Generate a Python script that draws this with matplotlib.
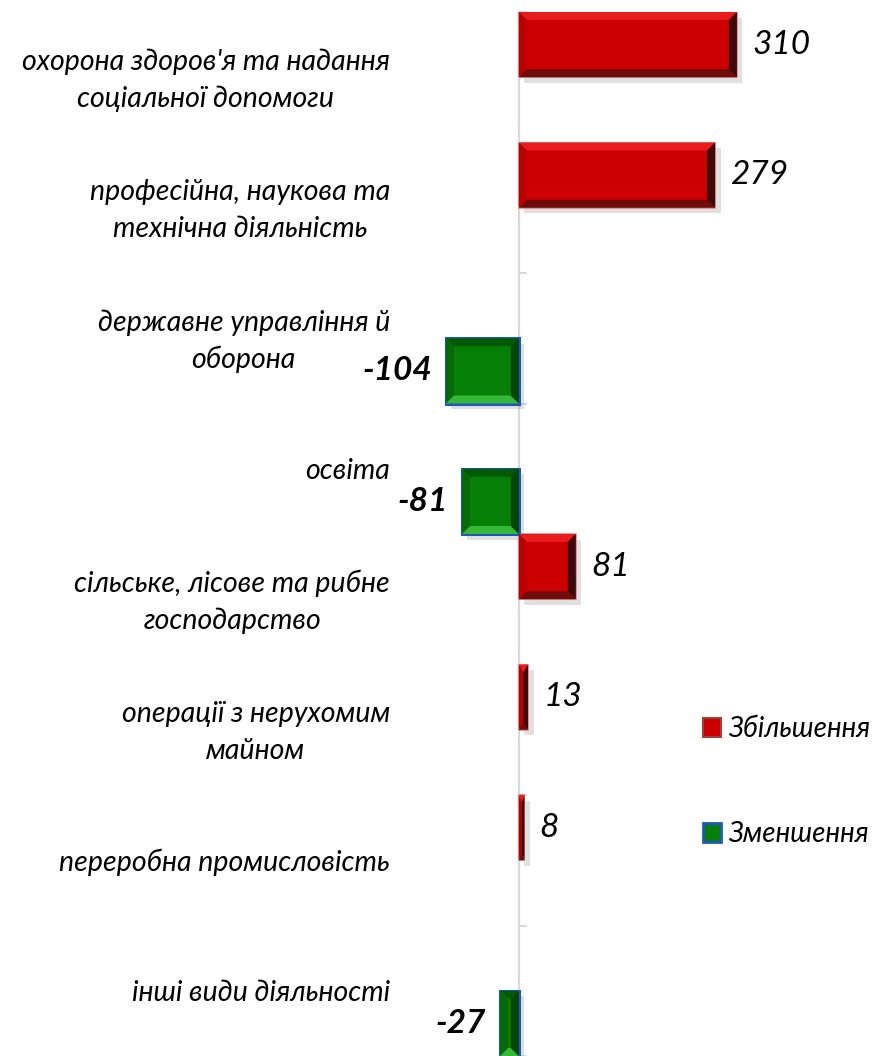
import matplotlib
matplotlib.use("Agg")
import matplotlib.pyplot as plt
import matplotlib.patheffects as pe
import matplotlib.transforms as mtransforms
from matplotlib.patches import Polygon, Patch
import numpy as np

# data
categories = [
    "охорона здоров'я та надання\nсоціальної допомоги",
    "професійна, наукова та\nтехнічна діяльність",
    "державне управління й\nоборона",
    "освіта",
    "сільське, лісове та рибне\nгосподарство",
    "операції з нерухомим\nмайном",
    "переробна промисловість",
    "інші види діяльності",
]
increase = [310, 279, None, None, 81, 13, 8, None]
decrease = [None, None, -104, -81, None, None, None, -27]
series_names = ["Збільшення", "Зменшення"]

plt.rcParams['font.family'] = ['Lato', 'DejaVu Sans']

RED = dict(face="#cc0000", edge="#d98a8a", top="#e81c1c", bottom="#6e0c0c",
           left="#b80000", right="#3d0a0a")
GREEN = dict(face="#067f06", edge="#1f57c0", top="#045a04", bottom="#35b835",
             left="#056a05", right="#034503")


def add_bevel(ax, rect, col, px=8):
    """Fake the Excel bevel look with four trapezoids inside the bar."""
    x0 = min(rect.get_x(), rect.get_x() + rect.get_width())
    x1 = max(rect.get_x(), rect.get_x() + rect.get_width())
    y0 = rect.get_y()
    y1 = y0 + rect.get_height()
    p0 = ax.transData.transform((0, 0))
    p1 = ax.transData.transform((1, 1))
    sx = px / abs(p1[0] - p0[0])
    sy = px / abs(p1[1] - p0[1])
    bx = min(sx, (x1 - x0) / 2)
    by = min(sy, (y1 - y0) / 2)
    sides = {
        "top": [(x0, y0), (x1, y0), (x1 - bx, y0 + by), (x0 + bx, y0 + by)],
        "bottom": [(x0, y1), (x1, y1), (x1 - bx, y1 - by), (x0 + bx, y1 - by)],
        "left": [(x0, y0), (x0 + bx, y0 + by), (x0 + bx, y1 - by), (x0, y1)],
        "right": [(x1, y0), (x1 - bx, y0 + by), (x1 - bx, y1 - by), (x1, y1)],
    }
    for name, pts in sides.items():
        ax.add_patch(Polygon(pts, closed=True, facecolor=col[name],
                             edgecolor="none", zorder=4))


fig = plt.figure(figsize=(8.79, 10.56), dpi=100)
ax = fig.add_axes([400 / 879, 0, 479 / 879, 1044 / 1056])
ax.set_xlim(-169, 512)
ax.set_ylim(len(categories) - 0.5, -0.5)

y = np.arange(len(categories))
inc_idx = [i for i, v in enumerate(increase) if v is not None]
dec_idx = [i for i, v in enumerate(decrease) if v is not None]
inc_vals = [increase[i] for i in inc_idx]
dec_vals = [decrease[i] for i in dec_idx]

shadow = [pe.SimplePatchShadow(offset=(4, -4), shadow_rgbFace="#999999", alpha=0.3),
          pe.Normal()]

bars_inc = ax.barh(y[inc_idx] - 0.25, inc_vals, height=0.5, color=RED["face"],
                   edgecolor=RED["edge"], linewidth=1.2, zorder=3,
                   path_effects=shadow)
bars_dec = ax.barh(y[dec_idx] + 0.25, dec_vals, height=0.5, color=GREEN["face"],
                   edgecolor=GREEN["edge"], linewidth=2.2, zorder=3,
                   path_effects=shadow)

for r in bars_inc:
    add_bevel(ax, r, RED)
for r in bars_dec:
    add_bevel(ax, r, GREEN)

ax.bar_label(bars_inc, labels=[str(v) for v in inc_vals], padding=11,
             fontsize=24, style='italic', color='black')
ax.bar_label(bars_dec, labels=[str(v) for v in dec_vals], padding=10,
             fontsize=24, style='italic', fontweight='bold', color='black')

# category labels to the left of the plot area, one text per line,
# lines centred on each other like Excel does
trans = mtransforms.blended_transform_factory(ax.transAxes, ax.transData)
renderer = fig.canvas.get_renderer()
gap = 37 * 72 / fig.dpi
for yi, name in zip(y, categories):
    lines = name.split("\n")
    n = len(lines)
    texts = []
    for k, line in enumerate(lines):
        off = -(k - (n - 1) / 2) * gap
        t = ax.annotate(line, xy=(-0.021, yi), xycoords=trans,
                        xytext=(0, off), textcoords='offset points',
                        ha='right', va='center_baseline', fontsize=20.5,
                        style='italic')
        texts.append((t, off))
    widths = [t.get_window_extent(renderer).width for t, _ in texts]
    wmax = max(widths)
    for (t, off), w in zip(texts, widths):
        t.xyann = (-(wmax - w) / 2 * 72 / fig.dpi, off)

# axis at zero
for s in ["top", "right", "bottom"]:
    ax.spines[s].set_visible(False)
ax.spines["left"].set_position(("data", 0))
ax.spines["left"].set_color("#d9d9d9")
ax.spines["left"].set_linewidth(1.6)
ax.set_xticks([])
ax.set_yticks(np.arange(-0.5, len(categories), 1))
ax.set_yticklabels([])
ax.tick_params(axis='y', direction='in', length=6, width=1.4, color='#d9d9d9')
ax.patch.set_alpha(0)

handles = [Patch(facecolor=RED["face"], edgecolor="#a04040", linewidth=1.5),
           Patch(facecolor=GREEN["face"], edgecolor=GREEN["edge"], linewidth=2)]
fig.legend(handles, series_names, loc='upper left',
           bbox_to_anchor=(703 / 879, 1 - 716 / 1056), frameon=False,
           prop=dict(size=20, style='italic'), handlelength=0.65,
           handleheight=0.65, handletextpad=0.25, labelspacing=2.85,
           borderpad=0, borderaxespad=0)

fig.savefig("out.png", dpi=100)
